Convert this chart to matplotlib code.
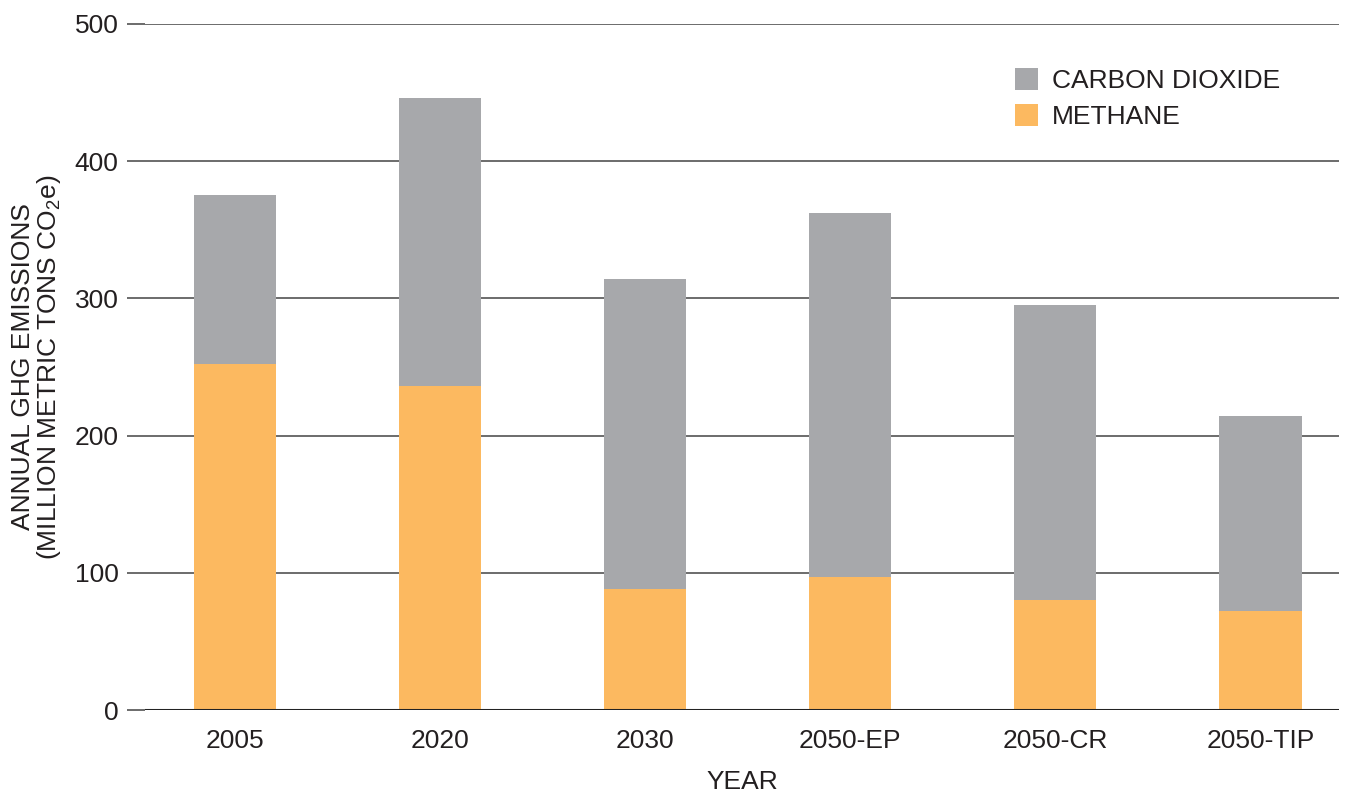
import matplotlib.pyplot as plt
import numpy as np

plt.rcParams['font.family'] = ['Liberation Sans', 'DejaVu Sans']
plt.rcParams['mathtext.fontset'] = 'custom'
plt.rcParams['mathtext.rm'] = 'Liberation Sans'
plt.rcParams['mathtext.it'] = 'Liberation Sans'

# scenarios and emissions (million metric tons CO2e)
categories = ["2005", "2020", "2030", "2050-EP", "2050-CR", "2050-TIP"]
methane = [252, 236, 88, 97, 80, 72]
totals = [375, 446, 314, 362, 295, 214]
carbon_dioxide = [t - m for t, m in zip(totals, methane)]

gray = "#A7A8AB"
orange = "#FCB960"
txt = "#231f20"

fig = plt.figure(figsize=(13.53, 7.96), dpi=100)
ax = fig.add_axes([0.107, 0.108, 0.883, 0.862])

x = np.arange(len(categories))
ax.bar(x, methane, width=0.4, color=orange, label="METHANE", zorder=3)
ax.bar(x, carbon_dioxide, width=0.4, bottom=methane, color=gray,
       label="CARBON DIOXIDE", zorder=3)

ax.set_xlim(-0.44, 5.385)
ax.set_ylim(0, 500)
ax.set_yticks([0, 100, 200, 300, 400, 500])
ax.set_xticks(x)
ax.set_xticklabels(categories)

for yv in [100, 200, 300, 400, 500]:
    ax.axhline(yv, color="#444444", lw=1.1, zorder=1)
ax.axhline(0, color="#222222", lw=2.2, zorder=4)

for s in ["top", "right", "left", "bottom"]:
    ax.spines[s].set_visible(False)

ax.tick_params(axis="y", length=13, width=1.1, color="#444444", labelsize=19,
               pad=6, labelcolor=txt)
ax.tick_params(axis="x", length=0, labelsize=19, pad=14, labelcolor=txt)

ax.set_xlabel("YEAR", fontsize=19, labelpad=12, color=txt)
ax.set_ylabel("ANNUAL GHG EMISSIONS\n(MILLION METRIC TONS CO$_2$e)", fontsize=19,
              labelpad=8, color=txt, linespacing=1.0)

handles, labels = ax.get_legend_handles_labels()
ax.legend(handles[::-1], labels[::-1], loc="upper right",
          bbox_to_anchor=(0.97, 0.97), frameon=False, fontsize=19,
          handlelength=0.9, handleheight=0.9, handletextpad=0.5,
          labelspacing=0.4, labelcolor=txt)

fig.savefig("out.png", dpi=100)
